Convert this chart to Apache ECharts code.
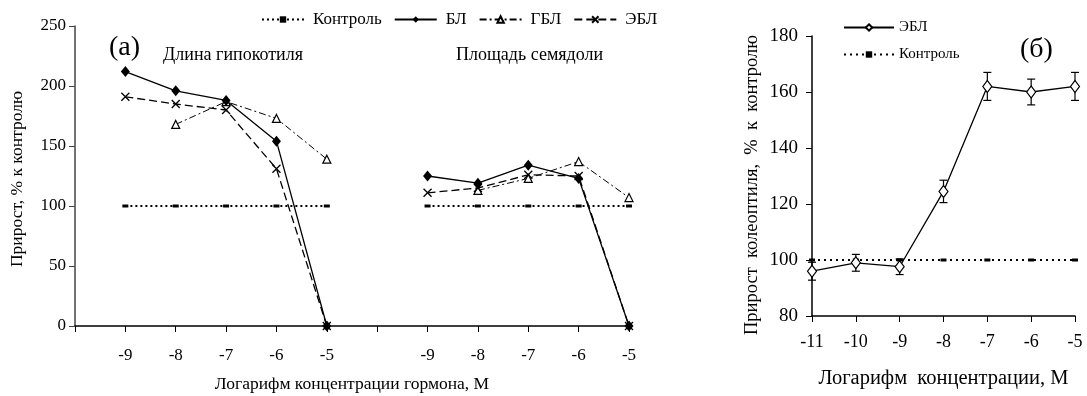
<!DOCTYPE html>
<html><head><meta charset="utf-8">
<script src="https://cdn.jsdelivr.net/npm/echarts@6/dist/echarts.min.js"></script>
<style>html,body{margin:0;padding:0;background:#fff}#c{width:1087px;height:396px}</style>
</head><body><div id="c"></div>
<script>
// ---- Panel (a) data ----
const concA = ['-9','-8','-7','-6','-5'];
const hypControl = [100,100,100,100,100];
const hypBL  = [212,196,188,154,0];
const hypGBL = [null,168,187,173,139];
const hypEBL = [191,185,180,131,0];
const cotControl = [100,100,100,100,100];
const cotBL  = [125,119,134,123,0];
const cotGBL = [null,113,123,137,107];
const cotEBL = [111,115,126,125,0];
const yTicksA = [0,50,100,150,200,250];
// ---- Panel (б) data ----
const concB = [-11,-10,-9,-8,-7,-6,-5];
const eblB   = [96,99,97.6,124.5,162,160,162];
const eblErr = [3.2,3,2.8,4,5,4.6,5];
const ctrlB  = [100,100,100,100,100,100,100];
const yTicksB = [80,100,120,140,160,180];

const FONT = 'Liberation Serif';
const leftCats = [''].concat(concA, [''], concA);
function joinAB(a, b){ return ['-'].concat(a.map(v=>v==null?'-':v), ['-'], b.map(v=>v==null?'-':v)); }

const crossPath = 'path://M0,0L10,10M10,0L0,10';
const txt = {fontFamily: FONT, color: '#000'};

const option = {
  animation: false,
  backgroundColor: '#fff',
  textStyle: {fontFamily: FONT, color:'#000'},
  grid: [
    {left: 75, right: 458, top: 26, bottom: 70, containLabel: false, outerBoundsMode: 'none'},
    {left: 812, right: 12, top: 36, bottom: 80, containLabel: false, outerBoundsMode: 'none'}
  ],
  legend: [
    {
      data: ['Контроль','БЛ','ГБЛ','ЭБЛ'],
      left: 256, top: 6, itemWidth: 42, itemHeight: 8, itemGap: 12,
      textStyle: {fontFamily: FONT, fontSize: 17, color:'#000', padding:[0,0,0,4]}
    },
    {
      data: ['ЭБЛ (б)','Контроль (б)'],
      formatter: n => n.replace(' (б)',''),
      orient: 'vertical', left: 838, top: 15, itemWidth: 50, itemHeight: 8, itemGap: 12,
      textStyle: {fontFamily: FONT, fontSize: 15, color:'#000'}
    }
  ],
  xAxis: [
    {
      gridIndex: 0, type: 'category', data: leftCats, boundaryGap: false,
      axisLine: {lineStyle: {color:'#000', width:1.5}},
      axisTick: {show:true, interval: 0, length: 6, lineStyle:{color:'#000'}},
      axisLabel: {interval: 0, ...txt, fontSize: 17, margin: 21},
      splitLine: {show:false},
      name: 'Логарифм концентрации гормона, M', nameLocation: 'middle', nameGap: 49,
      nameTextStyle: {...txt, fontSize: 17.5}
    },
    {
      gridIndex: 1, type: 'value', min: -11, max: -5, interval: 1,
      axisLine: {lineStyle: {color:'#000', width:1.5}},
      axisTick: {length: 6, lineStyle:{color:'#000'}},
      axisLabel: {...txt, fontSize: 18, margin: 17},
      splitLine: {show:false},
      name: 'Логарифм  концентрации, M', nameLocation: 'middle', nameGap: 52,
      nameTextStyle: {...txt, fontSize: 20.5}
    }
  ],
  yAxis: [
    {
      gridIndex: 0, type: 'value', min: 0, max: 250, interval: 50,
      axisLine: {show:true, lineStyle: {color:'#444', width:1.5}},
      axisTick: {show:true, length: 6, lineStyle:{color:'#444'}},
      axisLabel: {...txt, fontSize: 17, margin: 9},
      splitLine: {show:false}
    },
    {
      gridIndex: 1, type: 'value', min: 80, max: 180, interval: 20,
      axisLine: {show:true, lineStyle: {color:'#000', width:1.5}},
      axisTick: {show:true, length: 6, lineStyle:{color:'#000'}},
      axisLabel: {...txt, fontSize: 19, margin: 14},
      splitLine: {show:false}
    }
  ],
  series: [
    {
      name: 'Контроль', type: 'line', xAxisIndex:0, yAxisIndex:0,
      data: joinAB(hypControl, cotControl), connectNulls: false,
      lineStyle: {color:'#000', width: 2, type: [2,3]},
      symbol: 'rect', symbolSize: [6,3], itemStyle: {color:'#000'}, z: 2
    },
    {
      name: 'ГБЛ', type: 'line', xAxisIndex:0, yAxisIndex:0,
      data: joinAB(hypGBL, cotGBL),
      lineStyle: {color:'#000', width: 1, type: [7,3,2,3]},
      symbol: 'triangle', symbolSize: 8, showAllSymbol: true,
      itemStyle: {color:'#fff', borderColor:'#000', borderWidth:1.2}, z: 3
    },
    {
      name: 'ЭБЛ', type: 'line', xAxisIndex:0, yAxisIndex:0,
      data: joinAB(hypEBL, cotEBL),
      lineStyle: {color:'#000', width: 1.3, type: [8,4]},
      symbol: crossPath, symbolSize: 8, showAllSymbol: true,
      itemStyle: {color:'rgba(0,0,0,0)', borderColor:'#000', borderWidth:1.3}, z: 4
    },
    {
      name: 'БЛ', type: 'line', xAxisIndex:0, yAxisIndex:0,
      data: joinAB(hypBL, cotBL),
      lineStyle: {color:'#000', width: 1.3, type: 'solid'},
      symbol: 'diamond', symbolSize: [9,11], showAllSymbol: true,
      itemStyle: {color:'#000'}, z: 5
    },
    {
      name: 'Контроль (б)', type: 'line', xAxisIndex:1, yAxisIndex:1,
      data: concB.map((x,i)=>[x, ctrlB[i]]),
      lineStyle: {color:'#000', width: 2, type: [2,4]},
      symbol: 'rect', symbolSize: [6,3], itemStyle: {color:'#000'}, z: 2
    },
    {
      name: 'ЭБЛ err', type: 'custom', xAxisIndex:1, yAxisIndex:1,
      data: concB.map((x,i)=>[x, eblB[i]-eblErr[i], eblB[i]+eblErr[i]]),
      renderItem: function(params, api){
        const lo = api.coord([api.value(0), api.value(1)]);
        const hi = api.coord([api.value(0), api.value(2)]);
        const w = 4;
        return {type:'group', children:[
          {type:'line', shape:{x1:lo[0],y1:lo[1],x2:hi[0],y2:hi[1]}, style:{stroke:'#000', lineWidth:1.2}},
          {type:'line', shape:{x1:lo[0]-w,y1:lo[1],x2:lo[0]+w,y2:lo[1]}, style:{stroke:'#000', lineWidth:1.2}},
          {type:'line', shape:{x1:hi[0]-w,y1:hi[1],x2:hi[0]+w,y2:hi[1]}, style:{stroke:'#000', lineWidth:1.2}}
        ]};
      },
      z: 3
    },
    {
      name: 'ЭБЛ (б)', type: 'line', xAxisIndex:1, yAxisIndex:1,
      data: concB.map((x,i)=>[x, eblB[i]]),
      lineStyle: {color:'#000', width: 1.3},
      symbol: 'diamond', symbolSize: [9,12],
      itemStyle: {color:'#fff', borderColor:'#000', borderWidth:1.2}, z: 5
    }
  ],
  graphic: [
    {type:'text', left: 109, top: 34, style:{text:'(a)', font:'28px "Liberation Serif"', fill:'#000'}},
    {type:'text', left: 163, top: 46, style:{text:'Длина гипокотиля', font:'18px "Liberation Serif"', fill:'#000'}},
    {type:'text', left: 456, top: 46, style:{text:'Площадь семядоли', font:'18px "Liberation Serif"', fill:'#000'}},
    {type:'text', left: 1020, top: 36, style:{text:'(б)', font:'28px "Liberation Serif"', fill:'#000'}},
    {type:'text', x: 17, y: 179, rotation: Math.PI/2,
      style:{text:'Прирост, % к контролю', font:'17.5px "Liberation Serif"', fill:'#000', align:'center', verticalAlign:'middle'}},
    {type:'text', x: 752, y: 185, rotation: Math.PI/2,
      style:{text:'Прирост  колеоптиля,  %  к  контролю', font:'18.5px "Liberation Serif"', fill:'#000', align:'center', verticalAlign:'middle'}}
  ]
};
const chart = echarts.init(document.getElementById('c'), null, {renderer:'canvas'});
chart.setOption(option);
</script></body></html>
